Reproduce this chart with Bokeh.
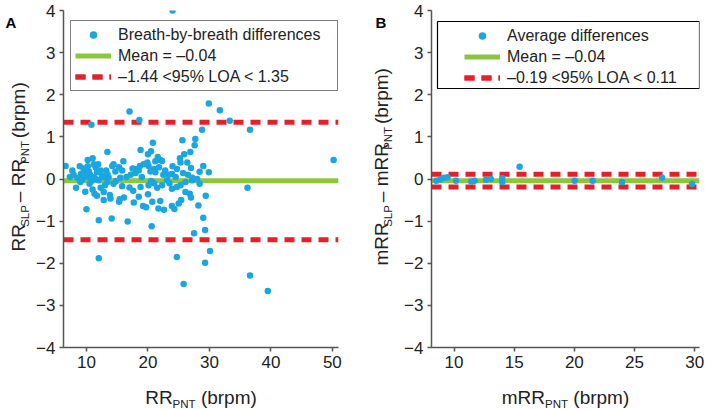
import math
from bokeh.plotting import figure
from bokeh.models import Label, Legend, LegendItem, BoxAnnotation, FixedTicker, Range1d
from bokeh.layouts import row, column
from bokeh.embed import file_html
from bokeh.resources import INLINE

FONT = "Liberation Sans"
BLUE = "#1BA6E0"
GREEN = "#8CC63F"
RED = "#E4202A"
AXIS = "#555555"
TEXT = "#222222"
NB = "\u00a0"

# ---------------- data ----------------
A_X = [17.0, 18.6, 10.8, 29.9, 31.7, 33.3, 36.6, 28.8, 27.7, 27.6, 25.6, 20.8, 18.8, 13.4, 20.5,
       20.0, 11.0, 10.2, 21.6, 22.0, 21.2, 25.9, 26.9, 25.3, 26.4, 25.2, 24.7, 23.9, 23.4, 25.7,
       27.0, 27.2, 29.0, 28.4, 29.9, 50.2, 6.6, 7.7, 7.9, 8.5, 9.1, 9.6, 9.8, 10.4, 10.6,
       11.2, 11.5, 11.7, 12.3, 12.5, 11.2, 12.0, 13.4, 13.6, 14.2, 14.4, 14.7, 15.3, 15.8, 15.5,
       17.2, 18.0, 18.2, 18.7, 18.5, 19.3, 19.9, 20.1, 20.4, 21.0, 21.2, 21.8, 22.3, 8.3, 9.0,
       10.5, 11.3, 11.7, 12.3, 12.8, 13.4, 13.8, 13.9, 14.4, 15.8, 15.4, 15.3, 16.1, 17.7, 17.6,
       18.5, 18.8, 19.2, 19.7, 20.1, 20.0, 20.7, 21.7, 22.0, 21.5, 22.6, 22.3, 23.9, 24.3, 25.0,
       25.4, 23.9, 24.7, 26.1, 26.8, 27.0, 26.1, 28.4, 29.4, 28.2, 29.0, 29.3, 27.5, 30.1, 29.3,
       24.7, 12.0, 25.8, 36.6, 39.5, 36.2, 10.0, 12.0, 14.1, 16.7, 20.6, 27.2, 25.3, 23.1, 24.0,
       9.3, 10.0, 10.8, 11.5, 12.8, 13.0, 9.5, 10.2, 11.9, 13.2, 14.8, 16.5, 17.0, 19.0, 20.5,
       22.5, 23.5, 24.5, 26.5, 28.0, 24.0, 22.8, 21.0, 16.0, 17.5, 12.8, 11.0, 9.8, 8.9, 7.3]
A_Y = [1.60, 1.40, 1.29, 1.79, 1.63, 1.38, 1.17, 1.17, 0.95, 0.80, 0.92, 0.86, 0.69, 0.64, 0.66,
       0.59, 0.49, 0.45, 0.52, 0.45, 0.42, 0.59, 0.64, 0.39, 0.39, 0.49, 0.24, 0.12, 0.10, 0.14,
       0.26, 0.03, 0.31, 0.17, 0.16, 0.45, 0.31, 0.20, 0.10, 0.03, 0.12, 0.16, 0.08, 0.18, 0.10,
       0.35, 0.28, 0.16, 0.20, 0.08, 0.04, -0.03, 0.12, 0.04, 0.31, 0.35, 0.18, 0.28, 0.20, 0.03,
       0.10, 0.14, 0.24, 0.31, 0.20, 0.35, 0.39, 0.31, 0.18, 0.24, 0.16, 0.28, 0.43, -0.21, -0.07,
       -0.11, -0.35, -0.40, -0.21, -0.31, -0.07, -0.38, -0.46, -0.11, -0.17, -0.48, -0.54, -0.44, -0.56, -0.28,
       -0.42, -0.19, -0.64, -0.67, -0.15, -0.36, -0.54, -0.70, -0.52, -0.21, -0.73, -0.15, -0.64, -0.71, -0.58,
       -0.50, -0.23, -0.19, -0.31, -0.35, -0.44, -0.07, -0.11, -0.40, -0.63, -0.92, -1.21, -1.29, -1.71, -1.99,
       -1.85, -1.88, -2.49, -2.29, -2.66, -0.21, -0.72, -0.98, -0.94, -1.01, -1.12, -0.03, -0.15, -0.03, 4.00,
       -0.02, 0.05, -0.05, 0.00, 0.05, -0.15, 0.25, 0.30, 0.35, 0.20, -0.05, 0.05, -0.20, 0.05, -0.05,
       0.10, -0.10, 0.05, 0.10, 0.00, 0.30, 0.20, -0.10, 0.42, 0.25, -0.50, -0.25, -0.30, 0.30, 0.05]
MEAN_A = -0.04
LOA_A = (-1.44, 1.35)

B_X = [8.54, 8.86, 9.19, 9.46, 10.16, 11.44, 11.71, 12.66, 13.06, 14.01, 14.01, 15.45,
       20.03, 21.52, 23.96, 27.29, 29.78]
B_Y = [-0.04, -0.01, 0.03, 0.04, -0.04, -0.06, -0.04, -0.02, 0.00, 0.02, -0.07, 0.29,
       -0.04, -0.04, -0.07, 0.03, -0.12]
MEAN_B = -0.04
LOA_B = (-0.19, 0.11)

XR_A = (6.26, 51.0)
XR_B = (8.13, 30.4)
YR = (-4, 4)
Y_TICKS = [-4, -3, -2, -1, 0, 1, 2, 3, 4]
X_TICKS_A = [10, 20, 30, 40, 50]
X_TICKS_B = [10, 15, 20, 25, 30]

LEG_A = ["Breath-by-breath differences", "Mean = \u20130.04", "\u20131.44 <95% LOA < 1.35"]
LEG_B = ["Average differences", "Mean = \u20130.04", "\u20130.19 <95% LOA < 0.11"]

# ---------------- layout ----------------
MAIN_H = 377
TOP = 10
BOTTOM = 30
FRAME_H = MAIN_H - TOP - BOTTOM
XLAB_H = 32

MAIN = 19
SUB = 11.5
SUBSHIFT = 6

WID = {'R': 722, 'P': 667, 'N': 722, 'T': 611, 'S': 667, 'L': 556, 'm': 833, ' ': 278, NB: 278,
       '(': 333, ')': 333, 'b': 556, 'r': 333, 'p': 556, '\u2013': 556, '\u2212': 584}


def tw(s, size):
    return sum(WID.get(c, 556) for c in s) * size / 1000.0


def make_fig(xr, width, left, right, xticks):
    p = figure(width=width, height=MAIN_H, x_range=Range1d(*xr), y_range=Range1d(*YR),
               output_backend="svg", toolbar_location=None,
               min_border_left=left, min_border_right=right,
               min_border_top=TOP, min_border_bottom=BOTTOM)
    p.xgrid.visible = False
    p.ygrid.visible = False
    p.outline_line_color = None
    p.xaxis.ticker = FixedTicker(ticks=xticks)
    p.yaxis.ticker = FixedTicker(ticks=Y_TICKS)
    p.yaxis.major_label_overrides = {t: (("\u2212" + str(-t)) if t < 0 else str(t)) for t in Y_TICKS}
    for ax in (p.xaxis[0], p.yaxis[0]):
        ax.axis_line_color = AXIS
        ax.axis_line_width = 1.5
        ax.major_tick_line_color = AXIS
        ax.major_tick_line_width = 1.5
        ax.major_tick_out = 4
        ax.major_tick_in = 0
        ax.minor_tick_line_color = None
        ax.major_label_text_font = FONT
        ax.major_label_text_font_size = "17px"
        ax.major_label_text_color = TEXT
        ax.major_label_standoff = 4
    return p


def text_fig(w, h):
    f = figure(width=w, height=h, x_range=Range1d(0, w), y_range=Range1d(0, h),
               x_axis_type=None, y_axis_type=None, output_backend="svg",
               toolbar_location=None, min_border=0)
    f.min_border_left = 0
    f.min_border_right = 0
    f.min_border_top = 0
    f.min_border_bottom = 0
    f.outline_line_color = None
    return f


def hlabel(f, xc, yb, pieces):
    total = sum(tw(t, SUB if s else MAIN) for t, s in pieces)
    cur = xc - total / 2.0
    for t, s in pieces:
        size = SUB if s else MAIN
        f.add_layout(Label(x=cur, y=yb - (SUBSHIFT if s else 0), text=t,
                           text_font=FONT, text_font_size=f"{size}px",
                           text_align="left", text_baseline="alphabetic", text_color=TEXT))
        cur += tw(t, size)


def vlabel(f, xb, yc, pieces):
    total = sum(tw(t, SUB if s else MAIN) for t, s in pieces)
    cur = yc - total / 2.0
    for t, s in pieces:
        size = SUB if s else MAIN
        f.add_layout(Label(x=xb + (SUBSHIFT if s else 0), y=cur, text=t, angle=math.pi / 2,
                           text_font=FONT, text_font_size=f"{size}px",
                           text_align="left", text_baseline="alphabetic", text_color=TEXT))
        cur += tw(t, size)


def panel_letter(f, x, txt):
    f.add_layout(Label(x=x, y=MAIN_H - 4, text=txt, text_font=FONT, text_font_size="15px",
                       text_font_style="bold", text_baseline="top", text_align="left",
                       text_color="black"))


def draw(p, xr, xs, ys, mean, loa):
    r_mean = p.line([xr[0], xr[1]], [mean, mean], line_color=GREEN, line_width=5)
    r_lo = p.line([xr[0], xr[1]], [loa[0], loa[0]], line_color=RED, line_width=5, line_dash="10 7")
    r_hi = p.line([xr[0], xr[1]], [loa[1], loa[1]], line_color=RED, line_width=5, line_dash="10 7")
    r_pts = p.scatter(xs, ys, size=6.5, fill_color=BLUE, line_color=None)
    return r_pts, r_mean, r_lo, r_hi


def legend_for(items, loc, border, label_width):
    lg = Legend(items=items, location=loc, orientation="vertical",
                label_text_font=FONT, label_text_font_size="16px", label_text_color=TEXT,
                glyph_width=36, glyph_height=19, label_height=19, label_standoff=7,
                padding=4, spacing=2, margin=0, label_width=label_width)
    if border:
        lg.border_line_color = "black"
        lg.border_line_width = 1.2
        lg.background_fill_color = "white"
        lg.background_fill_alpha = 1.0
    else:
        lg.border_line_alpha = 0
        lg.background_fill_alpha = 0
    return lg


LEG_H = 71
LEG_GAP = 10

# ---------------- panel A ----------------
YLA_W = 30
WA, LA, RA = 330, 33, 22
pA = make_fig(XR_A, WA, LA, RA, X_TICKS_A)
ra = draw(pA, XR_A, A_X, A_Y, MEAN_A, LOA_A)
legA = legend_for([LegendItem(label=LEG_A[0], renderers=[ra[0]]),
                   LegendItem(label=LEG_A[1], renderers=[ra[1]]),
                   LegendItem(label=LEG_A[2], renderers=[ra[2], ra[3]])],
                  (7, FRAME_H - LEG_GAP - LEG_H), True, 215)
pA.add_layout(legA)

ylabA = text_fig(YLA_W, MAIN_H)
vlabel(ylabA, 18, MAIN_H - (TOP + FRAME_H / 2),
       [("RR", False), ("SLP", True), (NB + "\u2013" + NB + "RR", False), ("PNT", True), (NB + "(brpm)", False)])
panel_letter(ylabA, 5, "A")

xlabA = text_fig(YLA_W + WA, XLAB_H)
hlabel(xlabA, YLA_W + LA + (WA - LA - RA) / 2, 12,
       [("RR", False), ("PNT", True), (NB + "(brpm)", False)])

# ---------------- panel B ----------------
YLB_W = 35
WB, LB, RB = 314, 36, 10
FRAME_WB = WB - LB - RB
pB = make_fig(XR_B, WB, LB, RB, X_TICKS_B)
rb = draw(pB, XR_B, B_X, B_Y, MEAN_B, LOA_B)
pxu_x = FRAME_WB / (XR_B[1] - XR_B[0])
pxu_y = FRAME_H / (YR[1] - YR[0])
box_top = YR[1] - (LEG_GAP + 1) / pxu_y
pB.add_layout(BoxAnnotation(left=XR_B[0] + 6 / pxu_x, right=XR_B[1],
                            top=box_top, bottom=box_top - 67 / pxu_y,
                            fill_color="white", fill_alpha=1.0,
                            line_color="black", line_width=1.2, line_alpha=1.0))
legB = legend_for([LegendItem(label=LEG_B[0], renderers=[rb[0]]),
                   LegendItem(label=LEG_B[1], renderers=[rb[1]]),
                   LegendItem(label=LEG_B[2], renderers=[rb[2], rb[3]])],
                  (29, FRAME_H - LEG_GAP - LEG_H), False, 20)
pB.add_layout(legB)

ylabB = text_fig(YLB_W, MAIN_H)
vlabel(ylabB, 21, MAIN_H - (TOP + FRAME_H / 2),
       [("mRR", False), ("SLP", True), (NB + "\u2013" + NB + "mRR", False), ("PNT", True), (NB + "(brpm)", False)])
panel_letter(ylabB, 15, "B")

xlabB = text_fig(YLB_W + WB, XLAB_H)
hlabel(xlabB, YLB_W + LB + FRAME_WB / 2, 12,
       [("mRR", False), ("PNT", True), (NB + "(brpm)", False)])

layout = row(column(row(ylabA, pA), xlabA), column(row(ylabB, pB), xlabB))
open("out.html", "w").write(file_html(layout, INLINE))
